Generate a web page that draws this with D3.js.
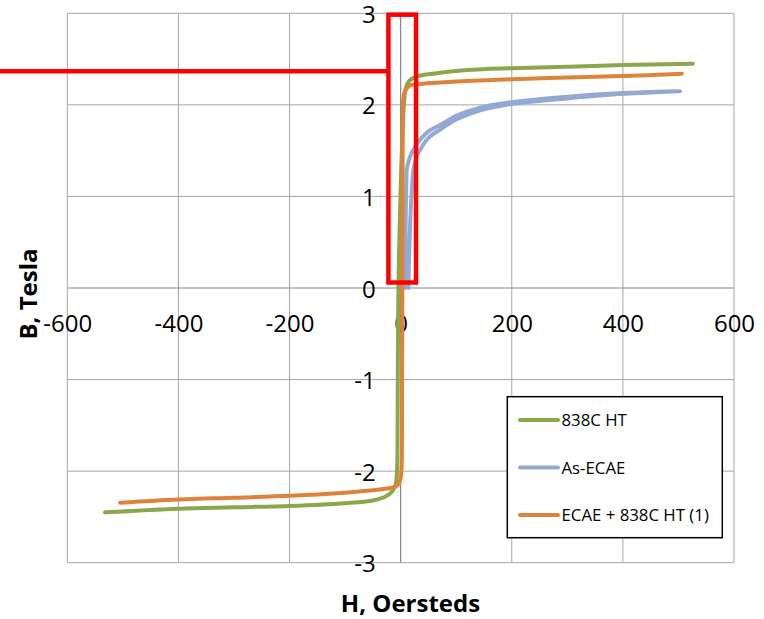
<!DOCTYPE html>
<html>
<head>
<meta charset="utf-8">
<script src="https://cdn.jsdelivr.net/npm/d3@7"></script>
<style>
  body { margin: 0; background: #fff; }
  svg { display: block; }
  text { font-family: "Open Sans", "Noto Sans", sans-serif; fill: #000; }
</style>
</head>
<body>
<svg id="chart" width="764" height="619"></svg>
<script>
// Axis ticks
const xTicks = [-600, -400, -200, 0, 200, 400, 600];
const yTicks = [-3, -2, -1, 0, 1, 2, 3];

// Series names and colours
const seriesNames = ["838C HT", "As-ECAE", "ECAE + 838C HT (1)"];
const seriesColors = ["#8aa84b", "#93a9d4", "#de8339"];

// 838C HT: H (Oe) and B (T)
const ht838H = [-532, -400, -300, -200, -100, -50, -28, -15, -9, -6.5, -5.5, -5, -4, -2, 1, 4, 6, 7.5, 10, 15, 29, 58, 120, 200, 300, 400, 526];
const ht838B = [-2.45, -2.41, -2.395, -2.38, -2.35, -2.32, -2.28, -2.22, -2.14, -2.0, -1.5, -0.8, 0.0, 0.6, 1.3, 1.8, 2.02, 2.12, 2.2, 2.26, 2.31, 2.34, 2.38, 2.40, 2.415, 2.435, 2.45];

// As-ECAE: ascending branch out to the tip, then the return branch
const asEcaeH = [14, 15.2, 16.9, 19.5, 23, 28, 35, 50, 71, 100, 143, 200, 300, 400, 503,
                 400, 300, 200, 143, 100, 71, 50, 35, 21, 15, 11, 10.3, 9.3, 8.5, 8];
const asEcaeB = [0.0, 0.35, 0.67, 1.0, 1.29, 1.42, 1.51, 1.64, 1.73, 1.84, 1.94, 2.01, 2.07, 2.12, 2.15,
                 2.13, 2.09, 2.03, 1.97, 1.88, 1.78, 1.71, 1.62, 1.49, 1.4, 1.29, 1.15, 0.85, 0.4, 0.0];

// ECAE + 838C HT (1)
const ecaeHtH = [-505, -400, -300, -200, -100, -50, -25, -12, -5, -1, 1, 2, 2.5, 3, 3.5, 4, 5, 8, 16, 30, 60, 120, 200, 300, 400, 506];
const ecaeHtB = [-2.345, -2.31, -2.29, -2.27, -2.235, -2.21, -2.19, -2.175, -2.15, -2.1, -2.02, -1.9, -1.0, 0.0, 1.0, 1.95, 2.08, 2.15, 2.21, 2.225, 2.24, 2.26, 2.28, 2.30, 2.315, 2.34];

// Highlight box around the switching region, and its leader line (data units)
const boxH = [-22, 27.7];
const boxB = [0.06, 2.985];
const leaderB = 2.367;

const svg = d3.select("#chart");
const plot = { left: 67.3, right: 734, top: 13.3, bottom: 562.7 };

const x = d3.scaleLinear().domain([-600, 600]).range([plot.left, plot.right]);
const y = d3.scaleLinear().domain([-3, 3]).range([plot.bottom, plot.top]);

// Gridlines
const grid = svg.append("g");
grid.selectAll("line.v").data(xTicks.filter(d => d !== 0)).join("line")
  .attr("x1", d => x(d)).attr("x2", d => x(d))
  .attr("y1", y(3)).attr("y2", y(-3))
  .attr("stroke", "#a6a6a6").attr("stroke-width", 1);
grid.selectAll("line.h").data(yTicks.filter(d => d !== 0)).join("line")
  .attr("x1", x(-600)).attr("x2", x(600))
  .attr("y1", d => y(d)).attr("y2", d => y(d))
  .attr("stroke", "#a6a6a6").attr("stroke-width", 1);

// Axis lines through the origin
svg.append("line")
  .attr("x1", x(-600)).attr("x2", x(600)).attr("y1", y(0)).attr("y2", y(0))
  .attr("stroke", "#868686").attr("stroke-width", 1.2);
svg.append("line")
  .attr("x1", x(0)).attr("x2", x(0)).attr("y1", y(3)).attr("y2", y(-3))
  .attr("stroke", "#868686").attr("stroke-width", 1.2);

// Tick labels
const xAxis = svg.append("g")
  .attr("transform", `translate(0,${y(0)})`)
  .call(d3.axisBottom(x).tickValues(xTicks).tickSize(0).tickPadding(27).tickFormat(d3.format("d")));
const yAxis = svg.append("g")
  .attr("transform", `translate(${x(0)},0)`)
  .call(d3.axisLeft(y).tickValues(yTicks).tickSize(0).tickPadding(25).tickFormat(d3.format("d")));
[xAxis, yAxis].forEach(g => {
  g.select(".domain").remove();
  g.selectAll("text")
    .attr("font-family", "'Open Sans', 'Noto Sans', sans-serif")
    .attr("font-size", 24)
    .attr("fill", "#000");
});
yAxis.selectAll("text").attr("dy", "0.38em");
// Plain hyphen for negative labels
svg.selectAll(".tick text").text(function() { return this.textContent.replace("\u2212", "-"); });

// Axis titles
svg.append("text")
  .attr("x", 410.5).attr("y", 611.5)
  .attr("text-anchor", "middle")
  .attr("font-size", 24).attr("font-weight", "bold")
  .text("H, Oersteds");
svg.append("text")
  .attr("transform", "translate(37.3,294) rotate(-90)")
  .attr("text-anchor", "middle")
  .attr("font-size", 24).attr("font-weight", "bold")
  .text("B, Tesla");

// Curves
const line = d3.line()
  .x(d => x(d[0])).y(d => y(d[1]))
  .curve(d3.curveCatmullRom.alpha(0.5));
const series = [
  d3.zip(ht838H, ht838B),
  d3.zip(asEcaeH, asEcaeB),
  d3.zip(ecaeHtH, ecaeHtB)
];
svg.append("g").selectAll("path").data(series).join("path")
  .attr("d", line)
  .attr("fill", "none")
  .attr("stroke", (d, i) => seriesColors[i])
  .attr("stroke-width", 4)
  .attr("stroke-linecap", "round")
  .attr("stroke-linejoin", "round");

// Legend
const legend = svg.append("g");
legend.append("rect")
  .attr("x", 507.3).attr("y", 396.7).attr("width", 215).attr("height", 141)
  .attr("fill", "#fff").attr("stroke", "#000").attr("stroke-width", 1.5);
const items = legend.selectAll("g.item").data(seriesNames).join("g")
  .attr("transform", (d, i) => `translate(0,${420 + i * 47.5})`);
items.append("line")
  .attr("x1", 520).attr("x2", 558).attr("y1", 0).attr("y2", 0)
  .attr("stroke", (d, i) => seriesColors[i])
  .attr("stroke-width", 4).attr("stroke-linecap", "round");
items.append("text")
  .attr("x", 561.5).attr("y", 0).attr("dy", "0.36em")
  .attr("font-size", 16.8)
  .text(d => d);

// Red highlight box and leader line
svg.append("rect")
  .attr("x", x(boxH[0])).attr("y", y(boxB[1]))
  .attr("width", x(boxH[1]) - x(boxH[0]))
  .attr("height", y(boxB[0]) - y(boxB[1]))
  .attr("fill", "none").attr("stroke", "#ff0000").attr("stroke-width", 4.5);
svg.append("line")
  .attr("x1", 0).attr("x2", x(boxH[0]))
  .attr("y1", y(leaderB)).attr("y2", y(leaderB))
  .attr("stroke", "#ff0000").attr("stroke-width", 4.3);
</script>
</body>
</html>
